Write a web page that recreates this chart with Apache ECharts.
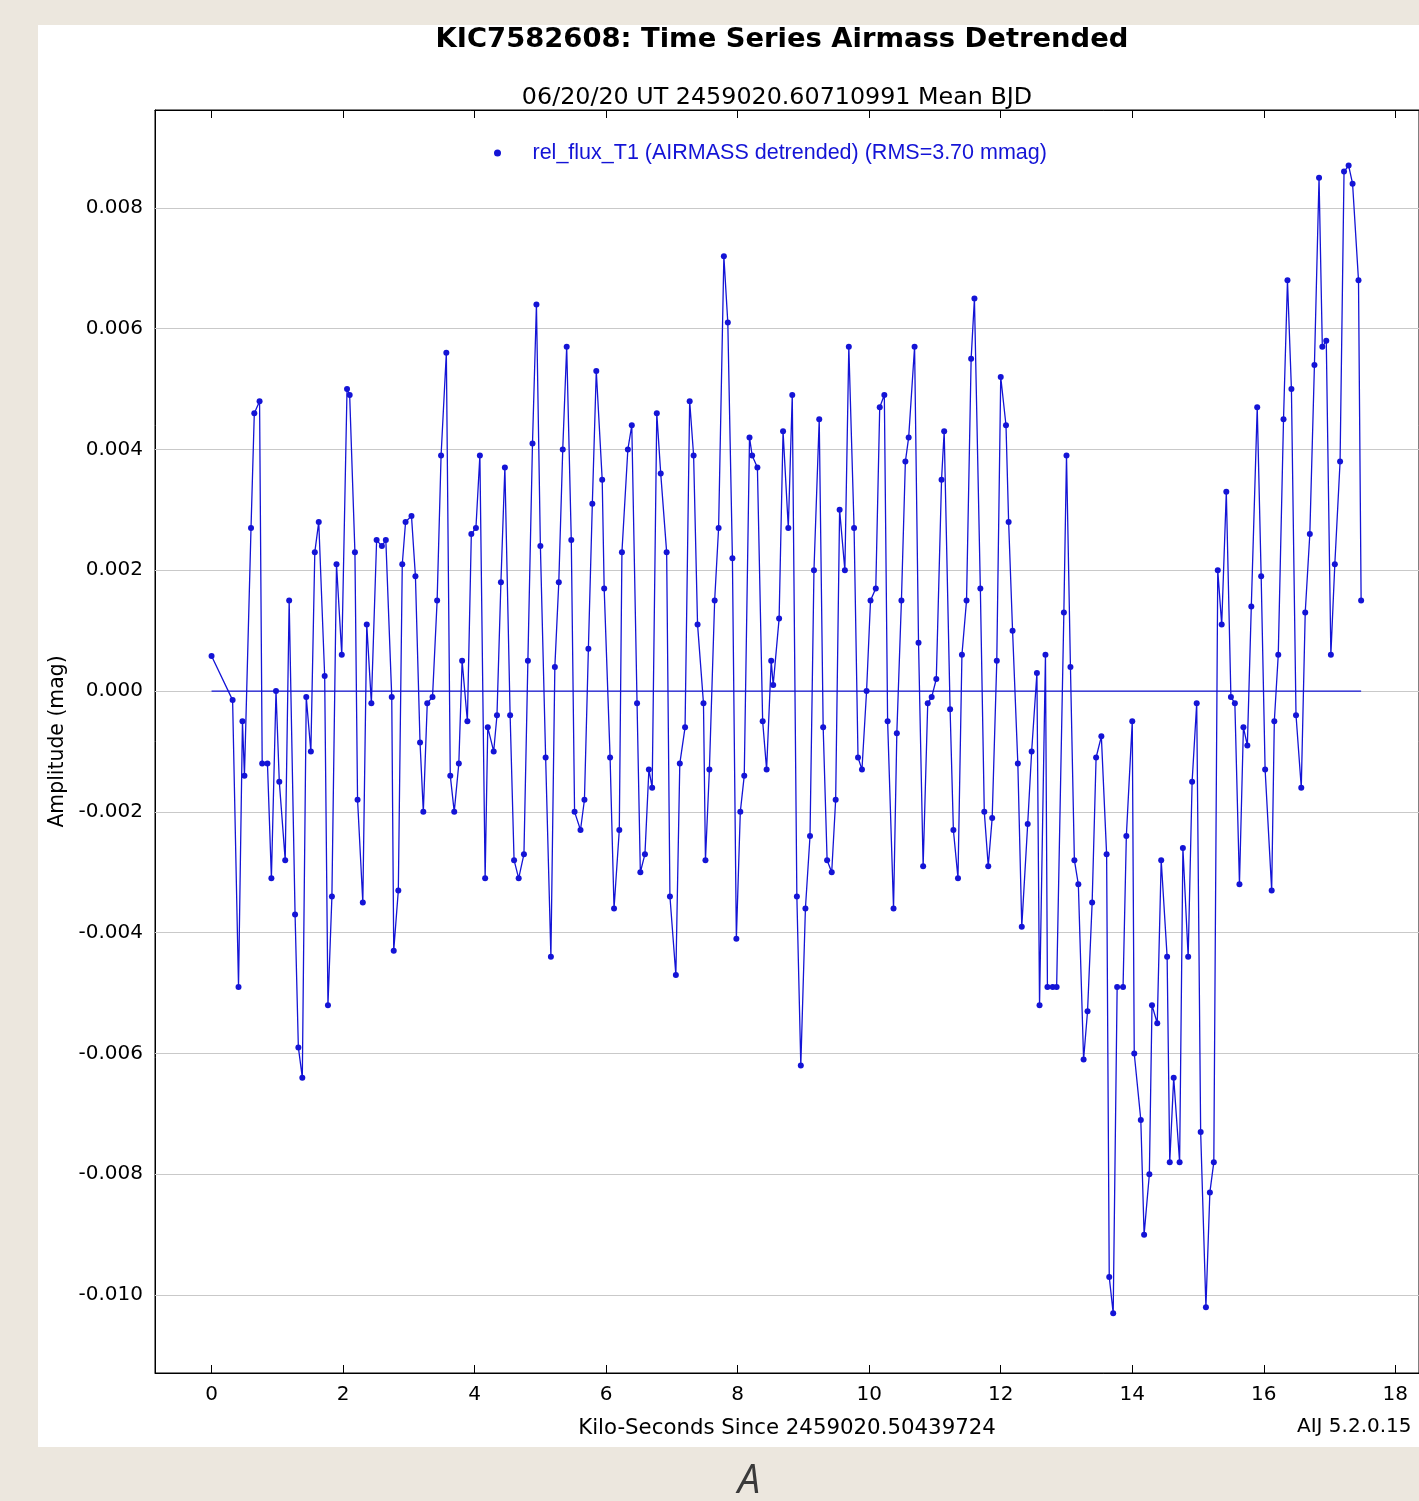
<!DOCTYPE html>
<html>
<head>
<meta charset="utf-8">
<title>KIC7582608: Time Series Airmass Detrended</title>
<script src="https://cdn.jsdelivr.net/npm/echarts@6/dist/echarts.min.js"></script>
<style>
  html, body { margin: 0; padding: 0; background: #ece7de; }
  #chart { width: 1419px; height: 1501px; }
</style>
</head>
<body>
<div id="chart"></div>
<script>
// Time since 2459020.50439724 BJD, in kilo-seconds
const timeKs = [
  0.00, 0.32, 0.41, 0.47, 0.50, 0.60, 0.65, 0.73, 0.77, 0.85,
  0.91, 0.98, 1.03, 1.12, 1.18, 1.27, 1.32, 1.38, 1.44, 1.51,
  1.57, 1.63, 1.72, 1.77, 1.83, 1.90, 1.98, 2.06, 2.10, 2.18,
  2.22, 2.30, 2.36, 2.43, 2.51, 2.59, 2.65, 2.74, 2.77, 2.84,
  2.90, 2.95, 3.04, 3.10, 3.17, 3.22, 3.28, 3.36, 3.43, 3.49,
  3.57, 3.63, 3.69, 3.76, 3.81, 3.89, 3.95, 4.02, 4.08, 4.16,
  4.20, 4.29, 4.34, 4.40, 4.46, 4.54, 4.60, 4.67, 4.75, 4.81,
  4.88, 4.94, 5.00, 5.08, 5.16, 5.22, 5.28, 5.34, 5.40, 5.47,
  5.52, 5.61, 5.67, 5.73, 5.79, 5.85, 5.94, 5.97, 6.06, 6.12,
  6.20, 6.24, 6.33, 6.39, 6.47, 6.52, 6.59, 6.65, 6.70, 6.77,
  6.83, 6.92, 6.97, 7.06, 7.12, 7.20, 7.27, 7.33, 7.39, 7.48,
  7.51, 7.57, 7.65, 7.71, 7.79, 7.85, 7.92, 7.98, 8.04, 8.10,
  8.18, 8.22, 8.30, 8.38, 8.44, 8.51, 8.54, 8.63, 8.69, 8.77,
  8.83, 8.90, 8.96, 9.03, 9.10, 9.16, 9.24, 9.30, 9.36, 9.43,
  9.49, 9.55, 9.63, 9.69, 9.77, 9.83, 9.89, 9.96, 10.02, 10.10,
  10.16, 10.23, 10.28, 10.37, 10.42, 10.49, 10.55, 10.60, 10.69, 10.75,
  10.82, 10.89, 10.95, 11.02, 11.10, 11.14, 11.23, 11.28, 11.35, 11.41,
  11.48, 11.55, 11.60, 11.69, 11.75, 11.81, 11.87, 11.94, 12.00, 12.08,
  12.12, 12.18, 12.26, 12.32, 12.41, 12.47, 12.55, 12.59, 12.68, 12.71,
  12.79, 12.85, 12.96, 13.00, 13.06, 13.12, 13.18, 13.26, 13.32, 13.39,
  13.45, 13.53, 13.61, 13.65, 13.71, 13.77, 13.86, 13.91, 14.00, 14.03,
  14.13, 14.18, 14.26, 14.30, 14.38, 14.44, 14.53, 14.57, 14.63, 14.72,
  14.77, 14.85, 14.91, 14.98, 15.04, 15.12, 15.18, 15.24, 15.30, 15.36,
  15.43, 15.50, 15.56, 15.63, 15.69, 15.75, 15.81, 15.90, 15.96, 16.02,
  16.12, 16.16, 16.22, 16.30, 16.36, 16.42, 16.49, 16.57, 16.63, 16.70,
  16.77, 16.84, 16.89, 16.95, 17.02, 17.08, 17.16, 17.22, 17.29, 17.35,
  17.44, 17.48
];

// Detrended relative flux of T1, in magnitudes
const ampMag = [
  0.00058, -0.00015, -0.0049, -0.0005, -0.0014, 0.0027, 0.0046, 0.0048, -0.0012, -0.0012,
  -0.0031, 0.0000, -0.0015, -0.0028, 0.0015, -0.0037, -0.0059, -0.0064, -0.0001, -0.0010,
  0.0023, 0.0028, 0.00025, -0.0052, -0.0034, 0.0021, 0.0006, 0.0050, 0.0049, 0.0023,
  -0.0018, -0.0035, 0.0011, -0.0002, 0.0025, 0.0024, 0.0025, -0.0001, -0.0043, -0.0033,
  0.0021, 0.0028, 0.0029, 0.0019, -0.00085, -0.0020, -0.0002, -0.0001, 0.0015, 0.0039,
  0.0056, -0.0014, -0.0020, -0.0012, 0.0005, -0.0005, 0.0026, 0.0027, 0.0039, -0.0031,
  -0.0006, -0.0010, -0.0004, 0.0018, 0.0037, -0.0004, -0.0028, -0.0031, -0.0027, 0.0005,
  0.0041, 0.0064, 0.0024, -0.0011, -0.0044, 0.0004, 0.0018, 0.0040, 0.0057, 0.0025,
  -0.0020, -0.0023, -0.0018, 0.0007, 0.0031, 0.0053, 0.0035, 0.0017, -0.0011, -0.0036,
  -0.0023, 0.0023, 0.0040, 0.0044, -0.0002, -0.0030, -0.0027, -0.0013, -0.0016, 0.0046,
  0.0036, 0.0023, -0.0034, -0.0047, -0.0012, -0.0006, 0.0048, 0.0039, 0.0011, -0.0002,
  -0.0028, -0.0013, 0.0015, 0.0027, 0.0072, 0.0061, 0.0022, -0.0041, -0.0020, -0.0014,
  0.0042, 0.0039, 0.0037, -0.0005, -0.0013, 0.0005, 0.0001, 0.0012, 0.0043, 0.0027,
  0.0049, -0.0034, -0.0062, -0.0036, -0.0024, 0.0020, 0.0045, -0.0006, -0.0028, -0.0030,
  -0.0018, 0.0030, 0.0020, 0.0057, 0.0027, -0.0011, -0.0013, 0.0000, 0.0015, 0.0017,
  0.0047, 0.0049, -0.0005, -0.0036, -0.0007, 0.0015, 0.0038, 0.0042, 0.0057, 0.0008,
  -0.0029, -0.0002, -0.0001, 0.0002, 0.0035, 0.0043, -0.0003, -0.0023, -0.0031, 0.0006,
  0.0015, 0.0055, 0.0065, 0.0017, -0.0020, -0.0029, -0.0021, 0.0005, 0.0052, 0.0044,
  0.0028, 0.0010, -0.0012, -0.0039, -0.0022, -0.0010, 0.0003, -0.0052, 0.0006, -0.0049,
  -0.0049, -0.0049, 0.0013, 0.0039, 0.0004, -0.0028, -0.0032, -0.0061, -0.0053, -0.0035,
  -0.0011, -0.00075, -0.0027, -0.0097, -0.0103, -0.0049, -0.0049, -0.0024, -0.0005, -0.0060,
  -0.0071, -0.0090, -0.0080, -0.0052, -0.0055, -0.0028, -0.0044, -0.0078, -0.0064, -0.0078,
  -0.0026, -0.0044, -0.0015, -0.0002, -0.0073, -0.0102, -0.0083, -0.0078, 0.0020, 0.0011,
  0.0033, -0.0001, -0.0002, -0.0032, -0.0006, -0.0009, 0.0014, 0.0047, 0.0019, -0.0013,
  -0.0033, -0.0005, 0.0006, 0.0045, 0.0068, 0.0050, -0.0004, -0.0016, 0.0013, 0.0026,
  0.0054, 0.0085, 0.0057, 0.0058, 0.0006, 0.0021, 0.0038, 0.0086, 0.0087, 0.0084,
  0.0068, 0.0015
];

// Zero reference line spans the observation window
const baselineKs = [0.00, 17.48];
const baselineMag = [0, 0];

// Axis ticks
const xTicks = [0, 2, 4, 6, 8, 10, 12, 14, 16, 18];
const yTicks = [-0.010, -0.008, -0.006, -0.004, -0.002, 0.000, 0.002, 0.004, 0.006, 0.008];

const seriesName = 'rel_flux_T1 (AIRMASS detrended) (RMS=3.70 mmag)';
const blue = '#1414d6';
const uiFont = 'DejaVu Sans';

const chart = echarts.init(document.getElementById('chart'), null, { renderer: 'canvas' });

chart.setOption({
  animation: false,
  backgroundColor: '#ece7de',
  graphic: [
    {
      type: 'rect', z: -10, silent: true,
      shape: { x: 38, y: 25, width: 1400, height: 1422 },
      style: { fill: '#ffffff' }
    },
    {
      type: 'text', x: 782, y: 40, silent: true,
      style: {
        text: 'KIC7582608: Time Series Airmass Detrended',
        font: 'bold 27.4px "DejaVu Sans"', fill: '#000',
        textAlign: 'center', textVerticalAlign: 'middle'
      }
    },
    {
      type: 'text', x: 777, y: 98, silent: true,
      style: {
        text: '06/20/20 UT 2459020.60710991 Mean BJD',
        font: '23.8px "DejaVu Sans"', fill: '#000',
        textAlign: 'center', textVerticalAlign: 'middle'
      }
    },
    {
      type: 'text', x: 1297, y: 1427, silent: true,
      style: {
        text: 'AIJ 5.2.0.15',
        font: '20px "DejaVu Sans"', fill: '#000',
        textAlign: 'left', textVerticalAlign: 'middle'
      }
    },
    {
      type: 'text', x: 749, y: 1482, silent: true,
      style: {
        text: 'A',
        font: 'italic 40px "Open Sans"', fill: '#3a3a3a',
        textAlign: 'center', textVerticalAlign: 'middle'
      }
    }
  ],
  legend: {
    data: [seriesName],
    left: 489,
    top: 137,
    icon: 'circle',
    itemWidth: 60,
    itemHeight: 7,
    itemGap: 0,
    textStyle: { color: blue, fontSize: 21.5, fontFamily: 'Liberation Sans' }
  },
  grid: {
    left: 155, top: 110, right: -8, bottom: 128,
    show: true, borderColor: '#000', borderWidth: 1, backgroundColor: 'transparent',
    containLabel: false
  },
  xAxis: [
    {
      type: 'value', position: 'bottom', min: -0.86, max: 18.36,
      axisLine: { show: true, onZero: false, lineStyle: { color: '#000', width: 1 } },
      axisTick: { show: true, inside: true, length: 8, customValues: xTicks, lineStyle: { color: '#000' } },
      axisLabel: {
        customValues: xTicks, color: '#000', fontSize: 20, fontFamily: uiFont, margin: 12,
        formatter: v => String(v)
      },
      splitLine: { show: false },
      name: 'Kilo-Seconds Since 2459020.50439724',
      nameLocation: 'middle', nameGap: 45,
      nameTextStyle: { color: '#000', fontSize: 21.3, fontFamily: uiFont }
    },
    {
      type: 'value', position: 'top', min: -0.86, max: 18.36,
      axisLine: { show: true, onZero: false, lineStyle: { color: '#000', width: 1 } },
      axisTick: { show: true, inside: true, length: 8, customValues: xTicks, lineStyle: { color: '#000' } },
      axisLabel: { show: false },
      splitLine: { show: false }
    }
  ],
  yAxis: [
    {
      type: 'value', min: -0.01129, max: 0.00962,
      axisLine: { show: true, onZero: false, lineStyle: { color: '#000', width: 1 } },
      axisTick: { show: true, inside: true, length: 8, customValues: yTicks, lineStyle: { color: '#000' } },
      axisLabel: {
        customValues: yTicks, color: '#000', fontSize: 20, fontFamily: uiFont, margin: 12,
        formatter: v => v.toFixed(3)
      },
      splitLine: { show: false },
      name: 'Amplitude (mag)',
      nameLocation: 'middle', nameGap: 80, nameRotate: 90,
      nameTextStyle: { color: '#000', fontSize: 20.4, fontFamily: uiFont }
    }
  ],
  series: [
    {
      name: 'baseline',
      type: 'line',
      z: 2,
      xAxisIndex: 0, yAxisIndex: 0,
      data: baselineKs.map((t, i) => [t, baselineMag[i]]),
      showSymbol: false,
      lineStyle: { color: blue, width: 1.2 },
      silent: true,
      markLine: {
        z: 1,
        silent: true,
        precision: 4,
        symbol: 'none',
        label: { show: false },
        lineStyle: { color: '#c9c9c9', width: 1, type: 'solid' },
        data: yTicks.map(v => ({ yAxis: v }))
      }
    },
    {
      name: seriesName,
      type: 'line',
      z: 3,
      xAxisIndex: 0, yAxisIndex: 0,
      data: timeKs.map((t, i) => [t, ampMag[i]]),
      symbol: 'circle',
      symbolSize: 6,
      showSymbol: true,
      showAllSymbol: true,
      itemStyle: { color: blue },
      lineStyle: { color: blue, width: 1.3 }
    }
  ]
});
</script>
</body>
</html>
